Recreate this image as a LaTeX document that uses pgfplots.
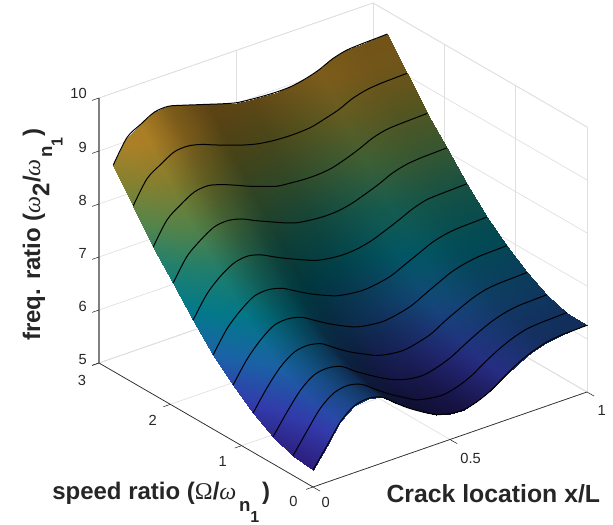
\documentclass[border=0pt]{standalone}
\usepackage{pgfplots}
\usepackage{pgfplotstable}
\usepackage{fontspec}
\setmainfont{Liberation Sans}
\newfontfamily\symfont{Liberation Serif}
\pgfplotsset{compat=1.18}
\definecolor{txt}{rgb}{0.15,0.15,0.15}
\def\hx#1{max(0,x-#1)}
\def\brf{(0.72-0.2*x-2.3*\hx{0.1}+2.7*\hx{0.3}+0.733*\hx{0.4}+0.334*\hx{0.55}-2.267*\hx{0.7}+0.8*\hx{0.85})}
\def\brb{(0.7-0.2*x-1.6*\hx{0.1}+0.867*\hx{0.2}+1.066*\hx{0.35}+0.347*\hx{0.5}-0.747*\hx{0.75}+0.267*\hx{0.9})}
\def\bw{min(1,y/2.1)}
\newcommand\nsub{\raisebox{-9pt}{\fontsize{14pt}{14pt}\selectfont n\raisebox{-8pt}{\fontsize{12pt}{12pt}\selectfont 1}}}
\pgfplotstableread[row sep=crcr]{
x y z\\
0 2.8 8.89\\ 0.05 2.8 9.32\\ 0.1 2.8 9.48\\ 0.15 2.8 9.62\\ 0.2 2.8 9.64\\ 0.25 2.8 9.57\\ 0.3 2.8 9.49\\ 0.35 2.8 9.41\\ 0.4 2.8 9.33\\ 0.45 2.8 9.26\\ 0.5 2.8 9.23\\ 0.55 2.8 9.21\\ 0.6 2.8 9.20\\ 0.65 2.8 9.21\\ 0.7 2.8 9.26\\ 0.75 2.8 9.34\\ 0.8 2.8 9.46\\ 0.85 2.8 9.53\\ 0.9 2.8 9.55\\ 0.95 2.8 9.56\\ 1 2.8 9.57\\
0 2.52 8.34\\ 0.05 2.52 8.76\\ 0.1 2.52 8.94\\ 0.15 2.52 9.09\\ 0.2 2.52 9.11\\ 0.25 2.52 9.05\\ 0.3 2.52 8.95\\ 0.35 2.52 8.86\\ 0.4 2.52 8.77\\ 0.45 2.52 8.70\\ 0.5 2.52 8.66\\ 0.55 2.52 8.64\\ 0.6 2.52 8.64\\ 0.65 2.52 8.66\\ 0.7 2.52 8.73\\ 0.75 2.52 8.81\\ 0.8 2.52 8.93\\ 0.85 2.52 9.00\\ 0.9 2.52 9.03\\ 0.95 2.52 9.04\\ 1 2.52 9.05\\
0 2.24 7.78\\ 0.05 2.24 8.20\\ 0.1 2.24 8.40\\ 0.15 2.24 8.55\\ 0.2 2.24 8.58\\ 0.25 2.24 8.51\\ 0.3 2.24 8.41\\ 0.35 2.24 8.30\\ 0.4 2.24 8.21\\ 0.45 2.24 8.12\\ 0.5 2.24 8.09\\ 0.55 2.24 8.07\\ 0.6 2.24 8.07\\ 0.65 2.24 8.10\\ 0.7 2.24 8.18\\ 0.75 2.24 8.28\\ 0.8 2.24 8.40\\ 0.85 2.24 8.47\\ 0.9 2.24 8.49\\ 0.95 2.24 8.50\\ 1 2.24 8.51\\
0 1.96 7.32\\ 0.05 1.96 7.73\\ 0.1 1.96 7.95\\ 0.15 1.96 8.11\\ 0.2 1.96 8.14\\ 0.25 1.96 8.08\\ 0.3 1.96 7.96\\ 0.35 1.96 7.85\\ 0.4 1.96 7.74\\ 0.45 1.96 7.65\\ 0.5 1.96 7.61\\ 0.55 1.96 7.59\\ 0.6 1.96 7.60\\ 0.65 1.96 7.65\\ 0.7 1.96 7.74\\ 0.75 1.96 7.84\\ 0.8 1.96 7.96\\ 0.85 1.96 8.03\\ 0.9 1.96 8.06\\ 0.95 1.96 8.07\\ 1 1.96 8.08\\
0 1.68 6.84\\ 0.05 1.68 7.24\\ 0.1 1.68 7.49\\ 0.15 1.68 7.65\\ 0.2 1.68 7.69\\ 0.25 1.68 7.62\\ 0.3 1.68 7.49\\ 0.35 1.68 7.37\\ 0.4 1.68 7.26\\ 0.45 1.68 7.16\\ 0.5 1.68 7.11\\ 0.55 1.68 7.09\\ 0.6 1.68 7.11\\ 0.65 1.68 7.17\\ 0.7 1.68 7.27\\ 0.75 1.68 7.38\\ 0.8 1.68 7.50\\ 0.85 1.68 7.58\\ 0.9 1.68 7.60\\ 0.95 1.68 7.61\\ 1 1.68 7.62\\
0 1.4 6.40\\ 0.05 1.4 6.80\\ 0.1 1.4 7.06\\ 0.15 1.4 7.24\\ 0.2 1.4 7.27\\ 0.25 1.4 7.21\\ 0.3 1.4 7.07\\ 0.35 1.4 6.93\\ 0.4 1.4 6.81\\ 0.45 1.4 6.71\\ 0.5 1.4 6.66\\ 0.55 1.4 6.64\\ 0.6 1.4 6.67\\ 0.65 1.4 6.73\\ 0.7 1.4 6.85\\ 0.75 1.4 6.97\\ 0.8 1.4 7.09\\ 0.85 1.4 7.16\\ 0.9 1.4 7.19\\ 0.95 1.4 7.20\\ 1 1.4 7.21\\
0 1.12 6.05\\ 0.05 1.12 6.44\\ 0.1 1.12 6.72\\ 0.15 1.12 6.91\\ 0.2 1.12 6.94\\ 0.25 1.12 6.88\\ 0.3 1.12 6.73\\ 0.35 1.12 6.58\\ 0.4 1.12 6.45\\ 0.45 1.12 6.34\\ 0.5 1.12 6.29\\ 0.55 1.12 6.27\\ 0.6 1.12 6.31\\ 0.65 1.12 6.38\\ 0.7 1.12 6.51\\ 0.75 1.12 6.64\\ 0.8 1.12 6.76\\ 0.85 1.12 6.83\\ 0.9 1.12 6.87\\ 0.95 1.12 6.88\\ 1 1.12 6.89\\
0 0.84 5.74\\ 0.05 0.84 6.12\\ 0.1 0.84 6.43\\ 0.15 0.84 6.62\\ 0.2 0.84 6.66\\ 0.25 0.84 6.60\\ 0.3 0.84 6.43\\ 0.35 0.84 6.27\\ 0.4 0.84 6.14\\ 0.45 0.84 6.02\\ 0.5 0.84 5.96\\ 0.55 0.84 5.94\\ 0.6 0.84 5.99\\ 0.65 0.84 6.07\\ 0.7 0.84 6.22\\ 0.75 0.84 6.35\\ 0.8 0.84 6.47\\ 0.85 0.84 6.55\\ 0.9 0.84 6.58\\ 0.95 0.84 6.59\\ 1 0.84 6.60\\
0 0.56 5.51\\ 0.05 0.56 5.88\\ 0.1 0.56 6.21\\ 0.15 0.56 6.41\\ 0.2 0.56 6.45\\ 0.25 0.56 6.39\\ 0.3 0.56 6.21\\ 0.35 0.56 6.05\\ 0.4 0.56 5.90\\ 0.45 0.56 5.78\\ 0.5 0.56 5.71\\ 0.55 0.56 5.69\\ 0.6 0.56 5.75\\ 0.65 0.56 5.85\\ 0.7 0.56 6.00\\ 0.75 0.56 6.14\\ 0.8 0.56 6.26\\ 0.85 0.56 6.34\\ 0.9 0.56 6.38\\ 0.95 0.56 6.39\\ 1 0.56 6.40\\
0 0.28 5.37\\ 0.05 0.28 5.74\\ 0.1 0.28 6.09\\ 0.15 0.28 6.29\\ 0.2 0.28 6.34\\ 0.25 0.28 6.27\\ 0.3 0.28 6.09\\ 0.35 0.28 5.91\\ 0.4 0.28 5.76\\ 0.45 0.28 5.62\\ 0.5 0.28 5.56\\ 0.55 0.28 5.54\\ 0.6 0.28 5.60\\ 0.65 0.28 5.71\\ 0.7 0.28 5.88\\ 0.75 0.28 6.03\\ 0.8 0.28 6.15\\ 0.85 0.28 6.23\\ 0.9 0.28 6.26\\ 0.95 0.28 6.27\\ 1 0.28 6.28\\
0 0 5.32\\ 0.05 0 5.68\\ 0.1 0 6.05\\ 0.15 0 6.26\\ 0.2 0 6.31\\ 0.25 0 6.25\\ 0.3 0 6.05\\ 0.35 0 5.86\\ 0.4 0 5.70\\ 0.45 0 5.56\\ 0.5 0 5.49\\ 0.55 0 5.47\\ 0.6 0 5.54\\ 0.65 0 5.66\\ 0.7 0 5.84\\ 0.75 0 6.00\\ 0.8 0 6.12\\ 0.85 0 6.20\\ 0.9 0 6.24\\ 0.95 0 6.25\\ 1 0 6.26\\
}\datatab
\begin{document}
\begin{tikzpicture}
\useasboundingbox (0,0) rectangle (459.75pt,393pt);
\begin{axis}[
  at={(234.75pt,27.75pt)}, anchor=origin,
  x={(205.5pt,71.25pt)}, y={(-53.5pt,31pt)}, z={(0pt,39.75pt)},
  xmin=0,xmax=1,ymin=0,ymax=3,zmin=5,zmax=10,
  clip=false,
  point meta min=0, point meta max=1,
  xtick={0,0.5,1}, ytick={0,1,2,3}, ztick={5,6,7,8,9,10},
  xticklabels={}, yticklabels={}, zticklabels={},
  grid=major,
  grid style={gray!25,line width=.5pt},
  axis line style={gray!25,line width=.5pt},
  major tick length=0pt,
]
\addplot3[surf, shader=interp, mesh/cols=21, mesh/ordering=x varies,
  colormap={parcol}{rgb=(0.24,0.15,0.66) rgb=(0.28,0.33,0.95) rgb=(0.15,0.55,0.93) rgb=(0.02,0.68,0.78) rgb=(0.18,0.72,0.62) rgb=(0.48,0.75,0.42) rgb=(0.75,0.73,0.27) rgb=(0.98,0.73,0.22) rgb=(0.98,0.72,0.20)},
  point meta={min(1,(z-5.3)/4.5)}]
  table[x=x,y=y,z=z]{\datatab};
\pgfplotsextra{\pgfsetblendmode{multiply}}
\addplot3[surf, shader=interp, mesh/cols=21, mesh/ordering=x varies,
  colormap={shade}{rgb=(0,0,0) rgb=(1,1,1)},
  point meta={\brf*(1-\bw)+\brb*\bw}]
  table[x=x,y=y,z=z]{\datatab};
\pgfplotsextra{\pgfsetblendmode{normal}}
\pgfplotsinvokeforeach{2.79:2.81,2.51:2.53,2.23:2.25,1.95:1.97,1.67:1.69,1.39:1.41,1.11:1.13,0.83:0.85,0.55:0.57,0.27:0.29,-0.01:0.01}{
  \addplot3[black,line width=.75pt,no marks,smooth,tension=0.5,restrict y to domain=#1]
    table[x=x,y=y,z=z]{\datatab};
}
\pgfplotsinvokeforeach{-0.01:0.01,0.99:1.01}{
  \addplot3[black,line width=.3pt,no marks,restrict x to domain=#1]
    table[x=x,y=y,z=z]{\datatab};
}
\addplot3[txt,line width=.5pt,no marks] coordinates {(1,0,5) (0,0,5) (0,3,5)};
\addplot3[gray,line width=1pt,no marks] coordinates {(0,3,5) (0,3,10)};
\pgfplotsinvokeforeach{0,0.5,1}{
  \addplot3[txt,line width=.4pt,no marks] coordinates {(#1,0,5) (#1,-0.1,5)};
}
\pgfplotsinvokeforeach{0,1,2,3}{
  \addplot3[txt,line width=.4pt,no marks] coordinates {(0,#1,5) (-0.025,#1,5)};
}
\pgfplotsinvokeforeach{5,6,7,8,9,10}{
  \addplot3[txt,line width=.4pt,no marks] coordinates {(0,3,#1) (-0.025,3,#1)};
}
\end{axis}
\begin{scope}[every node/.style={text=txt,font=\fontsize{11pt}{12pt}\selectfont,inner sep=0pt}]
\node at (244.3pt,16.3pt) {0};
\node at (353pt,49pt) {0.5};
\node at (451.3pt,84.9pt) {1};
\node at (61.5pt,108pt) {3};
\node at (114.5pt,77.5pt) {2};
\node at (167pt,47pt) {1};
\node at (220pt,16.7pt) {0};
\node[anchor=east] at (65.3pt,323pt) {10};
\node[anchor=east] at (65.3pt,282.5pt) {9};
\node[anchor=east] at (65.3pt,242.5pt) {8};
\node[anchor=east] at (65.3pt,203pt) {7};
\node[anchor=east] at (65.3pt,163pt) {6};
\node[anchor=east] at (65.3pt,123.5pt) {5};
\end{scope}
\node[text=txt,font=\fontsize{18.6pt}{20pt}\selectfont\bfseries,inner sep=0pt,anchor=base] at (370pt,16pt) {Crack location x/L};
\node[text=txt,font=\fontsize{18pt}{20pt}\selectfont\bfseries,inner sep=0pt,anchor=base west] at (39pt,18pt)
  {speed ratio ({\symfont\mdseries Ω}/{\symfont\mdseries\itshape ω}\kern2pt\nsub\kern2pt)};
\node[text=txt,font=\fontsize{18pt}{20pt}\selectfont\bfseries,inner sep=0pt,rotate=90,anchor=base west] at (30pt,137.25pt)
  {freq. ratio ({\symfont\mdseries\itshape ω}\raisebox{-7pt}{2}/{\symfont\mdseries\itshape ω}\kern1pt\nsub\kern1pt)};
\end{tikzpicture}
\end{document}
